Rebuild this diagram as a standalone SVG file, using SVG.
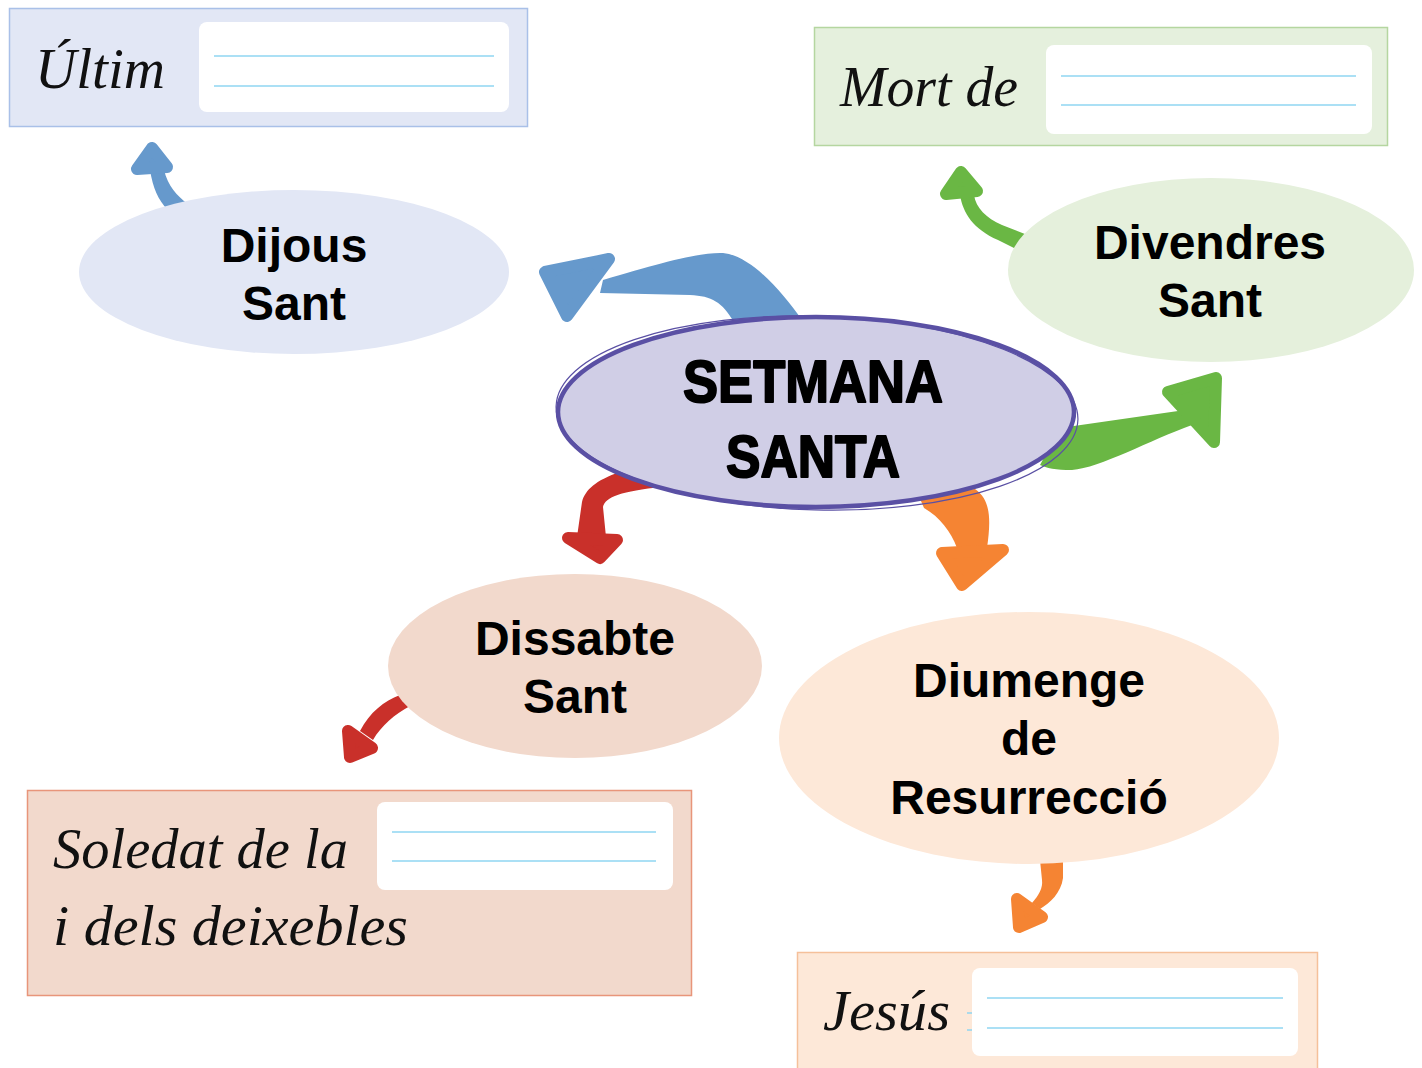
<svg xmlns="http://www.w3.org/2000/svg" width="1422" height="1068" viewBox="0 0 1422 1068">
<style>
.lbl{font-family:"Liberation Sans",Arial,sans-serif;font-weight:bold;font-size:48px;fill:#000;text-anchor:middle}
.main{font-family:"Liberation Sans",Arial,sans-serif;font-weight:bold;font-size:60px;fill:#000;stroke:#000;stroke-width:2;stroke-linejoin:round;text-anchor:middle}
.cur{font-family:"Liberation Serif","DejaVu Serif",serif;font-style:italic;font-size:58px;fill:#111}
.wb{fill:#fff}
.ln{stroke:#8fd6f2;stroke-width:1.5}
.head{stroke-linejoin:round;stroke-width:12}
</style>
<rect width="1422" height="1068" fill="#fff"/>

<g id="connectors">
  <g fill="#6699cc" stroke="#6699cc">
    <path stroke="none" d="M734,322 C722,302 712,296 690,295 L600,293 L603,280 C660,263 700,252 723,253 C752,256 782,292 802,320 Z"/>
    <path class="head" d="M545,272 L609,259 L567,316 Z"/>
    <path stroke="none" d="M150,170 C153,188 158,200 168,210 L188,204 C177,196 168,186 164,170 Z"/>
    <path class="head" d="M152,148 L137,169 L167,167 Z"/>
  </g>
  <g fill="#6ab744" stroke="#6ab744">
    <path stroke="none" d="M1060,428 L1185,410 L1192,425 C1150,440 1100,468 1072,470 C1056,470 1046,468 1040,465 Z"/>
    <path class="head" d="M1216,378 L1168,392 L1214,442 Z"/>
    <path stroke="none" d="M960,195 C963,213 973,229 998,240 L1022,252 L1030,236 L1002,225 C986,218 976,208 974,195 Z"/>
    <path class="head" d="M961,172 L946,194 L977,191 Z"/>
  </g>
  <g fill="#c9302a" stroke="#c9302a">
    <path stroke="none" d="M620,472 C596,480 585,490 582,502 L577,537 L606,537 L603,507 C605,497 622,491 662,487 L662,470 Z"/>
    <path class="head" d="M568,538 L617,540 L600,558 Z"/>
    <path stroke="none" d="M400,695 C384,701 370,712 360,731 L373,740 C381,726 395,714 410,706 Z"/>
    <path class="head" d="M348,731 L372,748 L350,757 Z"/>
  </g>
  <g fill="#f58433" stroke="#f58433">
    <path stroke="none" d="M918,494 L975,489 C991,500 991,520 987,548 L957,548 C951,532 940,517 924,508 Z"/>
    <path class="head" d="M942,553 L1003,550 L962,585 Z"/>
    <path stroke="none" d="M1040,860 L1063,860 L1063,878 C1061,893 1050,903 1040,909 L1032,903 C1039,895 1043,888 1042,880 Z"/>
    <path class="head" d="M1017,899 L1042,917 L1019,927 Z"/>
  </g>
</g>

<g id="box-ultim">
  <rect x="9.5" y="8.5" width="518" height="118" fill="#e2e7f5" stroke="#a9c0e8" stroke-width="1.5"/>
  <rect class="wb" x="199" y="22" width="310" height="90" rx="8"/>
  <line class="ln" x1="214" y1="56" x2="494" y2="56"/>
  <line class="ln" x1="214" y1="86" x2="494" y2="86"/>
  <text class="cur" x="35" y="88" textLength="130" lengthAdjust="spacingAndGlyphs">Últim</text>
</g>

<g id="box-mort">
  <rect x="814.5" y="27.5" width="573" height="118" fill="#e5f0dd" stroke="#b5d6a0" stroke-width="1.5"/>
  <rect class="wb" x="1046" y="45" width="326" height="89" rx="8"/>
  <line class="ln" x1="1061" y1="76" x2="1356" y2="76"/>
  <line class="ln" x1="1061" y1="105" x2="1356" y2="105"/>
  <text class="cur" x="840" y="106" textLength="178" lengthAdjust="spacingAndGlyphs">Mort de</text>
</g>

<g id="box-soledat">
  <rect x="27.5" y="790.5" width="664" height="205" fill="#f2d9cc" stroke="#e8957a" stroke-width="1.5"/>
  <rect class="wb" x="377" y="802" width="296" height="88" rx="8"/>
  <line class="ln" x1="392" y1="832" x2="656" y2="832"/>
  <line class="ln" x1="392" y1="861" x2="656" y2="861"/>
  <text class="cur" x="53" y="868" textLength="295" lengthAdjust="spacingAndGlyphs">Soledat de la</text>
  <text class="cur" x="53" y="945" textLength="355" lengthAdjust="spacingAndGlyphs">i dels deixebles</text>
</g>

<g id="box-jesus">
  <rect x="797.5" y="952.5" width="520" height="130" fill="#fde8d8" stroke="#f5c09a" stroke-width="1.5"/>
  <line class="ln" x1="967" y1="1013" x2="973" y2="1013"/>
  <line class="ln" x1="967" y1="1030" x2="973" y2="1030"/>
  <rect class="wb" x="972" y="968" width="326" height="88" rx="8"/>
  <line class="ln" x1="987" y1="998" x2="1283" y2="998"/>
  <line class="ln" x1="987" y1="1028" x2="1283" y2="1028"/>
  <text class="cur" x="823" y="1030" textLength="127" lengthAdjust="spacingAndGlyphs">Jesús</text>
</g>

<g id="node-dijous">
  <ellipse cx="294" cy="272" rx="215" ry="82" fill="#e2e7f5"/>
  <text class="lbl" x="294" y="262">Dijous</text>
  <text class="lbl" x="294" y="320">Sant</text>
</g>

<g id="node-divendres">
  <ellipse cx="1211" cy="270" rx="203" ry="92" fill="#e5f0dc"/>
  <text class="lbl" x="1210" y="259">Divendres</text>
  <text class="lbl" x="1210" y="317">Sant</text>
</g>

<g id="node-setmana">
  <ellipse cx="816" cy="412" rx="258" ry="95" fill="#d0cee6" stroke="#5a50a4" stroke-width="4.5"/>
  <ellipse cx="817" cy="413" rx="261" ry="97" fill="none" stroke="#5a50a4" stroke-width="1.2" transform="rotate(1.5 817 413)"/>
  <text class="main" x="813" y="402" textLength="260" lengthAdjust="spacingAndGlyphs">SETMANA</text>
  <text class="main" x="813" y="477" textLength="174" lengthAdjust="spacingAndGlyphs">SANTA</text>
</g>

<g id="node-dissabte">
  <ellipse cx="575" cy="666" rx="187" ry="92" fill="#f2d9cc"/>
  <text class="lbl" x="575" y="655">Dissabte</text>
  <text class="lbl" x="575" y="713">Sant</text>
</g>

<g id="node-diumenge">
  <ellipse cx="1029" cy="738" rx="250" ry="126" fill="#fde8d8"/>
  <text class="lbl" x="1029" y="697">Diumenge</text>
  <text class="lbl" x="1029" y="755">de</text>
  <text class="lbl" x="1029" y="814">Resurrecció</text>
</g>
</svg>
